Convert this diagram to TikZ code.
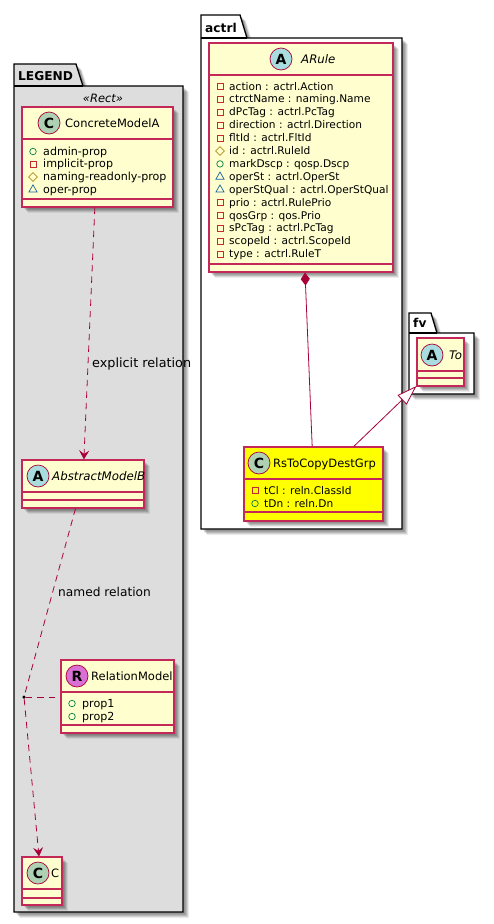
\documentclass[tikz,border=0pt]{standalone}
\usepackage{fontspec}
\usepackage{xcolor}
\setmainfont{DejaVu Sans}
\usetikzlibrary{arrows.meta,shapes.geometric,shadows}

\tikzset{
    softshadow/.style={
        general shadow={shadow xshift=2pt, shadow yshift=-2pt, fill=black, opacity=0.09},
        general shadow={shadow xshift=3pt, shadow yshift=-3pt, fill=black, opacity=0.12},
        general shadow={shadow xshift=4pt, shadow yshift=-4pt, fill=black, opacity=0.12},
        general shadow={shadow xshift=5pt, shadow yshift=-5pt, fill=black, opacity=0.1},
        general shadow={shadow xshift=6pt, shadow yshift=-6pt, fill=black, opacity=0.07}
    },
    classbox/.style={draw=umlline, fill=umlfill, line width=1.1pt, inner sep=0pt, softshadow},
    classline/.style={draw=umlline, line width=1.1pt},
    spot/.style={circle, draw=umlred, line width=0.7pt, minimum size=22pt, inner sep=0pt,
        font=\fontsize{14}{14}\selectfont\bfseries},
    nametext/.style={anchor=base west, inner sep=0pt, font=\fontsize{11.5}{14}\selectfont},
    abstext/.style={nametext, font=\fontsize{11.8}{14}\selectfont\itshape},
    attr/.style={anchor=base west, inner sep=0pt, font=\fontsize{10.6}{12}\selectfont},
    legendattr/.style={attr, font=\fontsize{11.1}{12}\selectfont},
    relation/.style={anchor=base west, inner sep=0pt, font=\fontsize{12.2}{14}\selectfont},
    pkgname/.style={anchor=base west, inner sep=0pt, font=\fontsize{12.2}{16}\selectfont\bfseries},
    pkgline/.style={draw=black, line width=1.3pt, line join=miter},
    ipub/.style={circle, draw=icongreen, line width=0.7pt, minimum size=6.5pt, inner sep=0pt},
    ipriv/.style={rectangle, draw=iconred, line width=0.7pt, minimum size=6pt, inner sep=0pt},
    iprot/.style={diamond, draw=icongold, line width=0.7pt, minimum size=9pt, inner sep=0pt},
    ipkg/.style={regular polygon, regular polygon sides=3, draw=iconblue, line width=0.7pt,
        minimum size=9.5pt, inner sep=0pt},
    dep/.style={draw=umlred, line width=0.8pt, dash pattern=on 6.5pt off 5pt},
    link/.style={draw=umlred, line width=0.8pt}
}

\begin{document}
\begin{tikzpicture}[x=1pt, y=-1pt, >={Stealth[length=9pt, width=10pt, inset=3.5pt]}]

    % Define colors matching the class diagram theme
    \definecolor{umlred}{RGB}{168, 0, 54}
    \definecolor{umlline}{RGB}{196, 40, 88}
    \definecolor{umlfill}{RGB}{254, 254, 206}
    \definecolor{hlyellow}{RGB}{255, 255, 0}
    \definecolor{spotc}{RGB}{173, 209, 178}
    \definecolor{spota}{RGB}{169, 220, 223}
    \definecolor{spotr}{RGB}{218, 112, 214}
    \definecolor{icongreen}{RGB}{3, 128, 72}
    \definecolor{iconred}{RGB}{200, 41, 48}
    \definecolor{icongold}{RGB}{179, 141, 34}
    \definecolor{iconblue}{RGB}{25, 99, 160}
    \definecolor{pkggray}{RGB}{221, 221, 221}

    \useasboundingbox (0,0) rectangle (494,924);

    % Package outlines
    \path[pkgline, fill=pkggray, softshadow] (14,64) -- (76,64) -- (83,86) -- (183,86) -- (183,912) -- (14,912) -- cycle;
    \draw[pkgline] (14,86) -- (83,86);
    \node[pkgname] (legendName) at (18,80) {LEGEND};
    \node[font=\fontsize{11.5}{14}\selectfont\itshape, inner sep=0pt] (legendStereo) at (103,98) {«Rect»};

    \path[pkgline, fill=white, softshadow] (201,15) -- (240,15) -- (247,38) -- (402,38) -- (402,529) -- (201,529) -- cycle;
    \draw[pkgline] (201,38) -- (247,38);
    \node[pkgname] (actrlName) at (205,32) {actrl};

    \path[pkgline, fill=white, softshadow] (409,313) -- (431,313) -- (437,333) -- (474,333) -- (474,394) -- (409,394) -- cycle;
    \draw[pkgline] (409,333) -- (437,333);
    \node[pkgname] (fvName) at (413,327) {fv};

    % Class boxes
    \node[classbox, minimum width=151pt, minimum height=100pt] (ConcreteModelA) at (97.5,157) {};
    \node[classbox, minimum width=122pt, minimum height=48pt] (AbstractModelB) at (83,484) {};
    \node[classbox, minimum width=113pt, minimum height=73pt] (RelationModel) at (117.5,696.5) {};
    \node[classbox, minimum width=40pt, minimum height=48pt] (ClassC) at (42,881) {};
    \node[classbox, minimum width=184pt, minimum height=229pt] (ARule) at (301,157.5) {};
    \node[classbox, fill=hlyellow, minimum width=139pt, minimum height=74pt] (RsToCopyDestGrp) at (313.5,484) {};
    \node[classbox, minimum width=47pt, minimum height=48pt] (To) at (440.5,362) {};

    % Compartment rules
    \foreach \cname/\ya/\yb in {ConcreteModelA/139/199, AbstractModelB/492/500, RelationModel/692/725,
        ClassC/889/898, ARule/75/264, RsToCopyDestGrp/479/512, To/371/378} {
        \draw[classline] (\cname.west |- 0,\ya) -- (\cname.east |- 0,\ya);
        \draw[classline] (\cname.west |- 0,\yb) -- (\cname.east |- 0,\yb);
    }

    % Class spots and names
    \node[spot, fill=spotc] (spotConcrete) at (49,123) {C};
    \node[nametext] (nameConcrete) at (65,127) {ConcreteModelA};
    \node[spot, fill=spota] (spotAbstract) at (38,476) {A};
    \node[abstext] (nameAbstract) at (52,480) {AbstractModelB};
    \node[spot, fill=spotr] (spotRelation) at (77,676) {R};
    \node[nametext] (nameRelation) at (91,680) {RelationModel};
    \node[spot, fill=spotc] (spotC) at (38,873) {C};
    \node[nametext] (nameC) at (51,877) {C};
    \node[spot, fill=spota] (spotARule) at (281,59) {A};
    \node[abstext] (nameARule) at (301,63) {ARule};
    \node[spot, fill=spotc] (spotRs) at (259,463) {C};
    \node[nametext] (nameRs) at (273,467) {RsToCopyDestGrp};
    \node[spot, fill=spota] (spotTo) at (432,355) {A};
    \node[abstext] (nameTo) at (449,359) {To};

    % Attributes of each class
    \foreach \kind/\txt [count=\i from 0] in {ipub/admin-prop, ipriv/implicit-prop, iprot/naming-readonly-prop, ipkg/oper-prop} {
        \node[\kind] (iconConcrete\i) at (33,{151.5+12.7*\i}) {};
        \node[legendattr] (attrConcrete\i) at (43,{155+12.7*\i}) {\txt};
    }
    \foreach \kind/\txt [count=\i from 0] in {ipriv/action : actrl.Action, ipriv/ctrctName : naming.Name,
        ipriv/dPcTag : actrl.PcTag, ipriv/direction : actrl.Direction, ipriv/fltId : actrl.FltId,
        iprot/id : actrl.RuleId, ipub/markDscp : qosp.Dscp, ipkg/operSt : actrl.OperSt,
        ipkg/operStQual : actrl.OperStQual, ipriv/prio : actrl.RulePrio, ipriv/qosGrp : qos.Prio,
        ipriv/sPcTag : actrl.PcTag, ipriv/scopeId : actrl.ScopeId, ipriv/type : actrl.RuleT} {
        \node[\kind] (iconARule\i) at (220,{86.5+12.9*\i}) {};
        \node[attr] (attrARule\i) at (229,{90+12.9*\i}) {\txt};
    }
    \foreach \kind/\txt [count=\i from 0] in {ipriv/tCl : reln.ClassId, ipub/tDn : reln.Dn} {
        \node[\kind] (iconRs\i) at (255,{490.5+13*\i}) {};
        \node[attr] (attrRs\i) at (264,{494+13*\i}) {\txt};
    }
    \foreach \kind/\txt [count=\i from 0] in {ipub/prop1, ipub/prop2} {
        \node[\kind] (iconRelation\i) at (72,{703.5+13*\i}) {};
        \node[legendattr] (attrRelation\i) at (82,{707+13*\i}) {\txt};
    }

    % Relations in the legend
    \node[circle, fill=black, minimum size=3.5pt, inner sep=0pt] (relationDot) at (24,697) {};
    \draw[dep, ->] (ConcreteModelA.-93) -- (AbstractModelB.88);
    \draw[dep] (AbstractModelB.253.7) -- (relationDot);
    \draw[dep, ->] (relationDot) -- (ClassC.97);
    \draw[dep] (relationDot) -- (relationDot -| RelationModel.west);
    \node[relation, font=\fontsize{12.8}{14}\selectfont] (labelExplicit) at (92,367) {explicit relation};
    \node[relation] (labelNamed) at (58,596) {named relation};

    % Composition and generalization
    \draw[link, {Diamond[length=13pt, width=9pt]}-] (ARule.-88) -- (RsToCopyDestGrp.92.3);
    \draw[link, -{Triangle[open, fill=white, length=20pt, width=13pt]}] (RsToCopyDestGrp.43) -- (To.225.6);

\end{tikzpicture}
\end{document}
